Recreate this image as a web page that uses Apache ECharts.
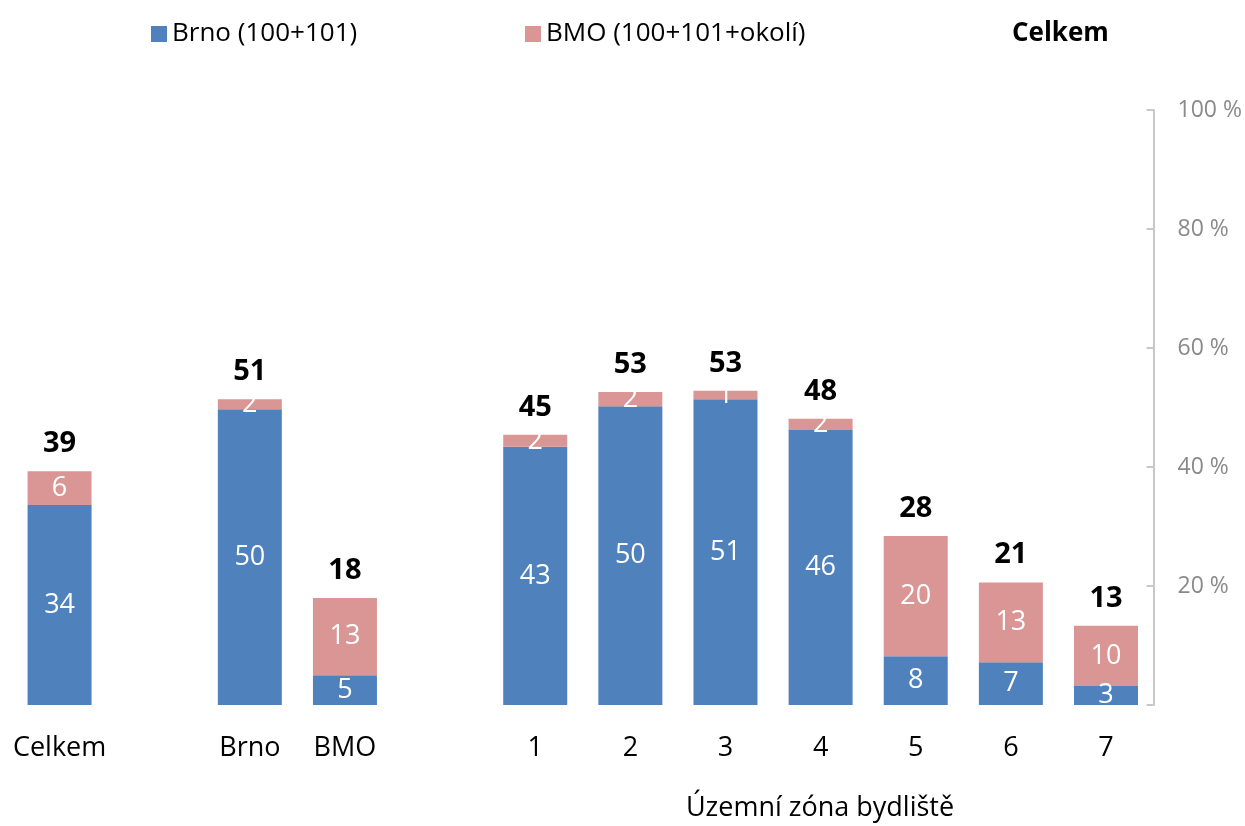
<!DOCTYPE html>
<html><head><meta charset="utf-8">
<script src="https://cdn.jsdelivr.net/npm/echarts@6/dist/echarts.min.js"></script>
<style>html,body{margin:0;padding:0;background:#fff}#c{width:1245px;height:826px}</style>
</head><body><div id="c"></div>
<script>
const categories = ['Celkem', '', 'Brno', 'BMO', '', '1', '2', '3', '4', '5', '6', '7'];
const brno = [33.6, null, 49.7, 5.0, null, 43.4, 50.2, 51.4, 46.2, 8.2, 7.2, 3.2];
const bmo = [5.7, null, 1.7, 13.0, null, 2.0, 2.4, 1.4, 1.9, 20.2, 13.4, 10.1];
const yTicks = [0, 20, 40, 60, 80, 100];
const seriesNames = ['Brno (100+101)', 'BMO (100+101+okolí)', 'Celkem'];
const axisTitle = 'Územní zóna bydliště';

const total = brno.map((v, i) => v == null ? null : +(v + bmo[i]).toFixed(1));
const FONT = '"Open Sans", "Noto Sans", sans-serif';
const chart = echarts.init(document.getElementById('c'), null, {renderer: 'canvas'});
const inLabel = {show: true, position: 'inside', color: '#fff', fontSize: 27, fontFamily: FONT,
  formatter: p => Math.round(p.value)};
const legTxt = {fontSize: 26, color: '#000', fontFamily: FONT};
chart.setOption({
  animation: false,
  textStyle: {fontFamily: FONT},
  legend: [
    {data: [{name: seriesNames[0], icon: 'rect'}], left: 146, top: 16, itemWidth: 16, itemHeight: 16, itemGap: 8,
     textStyle: legTxt},
    {data: [{name: seriesNames[1], icon: 'rect'}], left: 520, top: 16, itemWidth: 16, itemHeight: 16, itemGap: 8,
     textStyle: legTxt},
    {data: [{name: seriesNames[2], icon: 'rect'}], left: 986, top: 16, itemWidth: 16, itemHeight: 16, itemGap: 8,
     textStyle: Object.assign({}, legTxt, {fontWeight: 'bold'})}
  ],
  grid: {left: 12, right: 90, top: 110, bottom: 121, containLabel: false},
  xAxis: {
    type: 'category', data: categories,
    axisLine: {show: false}, axisTick: {show: false},
    axisLabel: {fontSize: 27, color: '#000', margin: 30, fontFamily: FONT, interval: 0}
  },
  yAxis: {
    type: 'value', position: 'right', min: 0, max: 100, interval: 20,
    axisLine: {show: true, lineStyle: {color: '#c8c8c8', width: 2}},
    axisTick: {show: true, inside: true, length: 7, lineStyle: {color: '#c8c8c8', width: 2}},
    splitLine: {show: false},
    axisLabel: {fontSize: 23, color: '#8a8a8a', margin: 24, fontFamily: FONT,
      formatter: v => v === 0 ? '' : v + ' %'}
  },
  series: [
    {name: seriesNames[0], type: 'bar', stack: 's', data: brno, barWidth: 64,
     itemStyle: {color: '#4F81BD'}, label: inLabel},
    {name: seriesNames[1], type: 'bar', stack: 's', data: bmo, barWidth: 64,
     itemStyle: {color: '#D99694'}, label: inLabel},
    {name: seriesNames[2], type: 'bar', data: total, barWidth: 64, barGap: '-100%',
     itemStyle: {color: 'rgba(0,0,0,0)'}, z: 5,
     label: {show: true, position: 'top', distance: 13, color: '#000', fontSize: 29, fontWeight: 'bold',
       fontFamily: FONT, formatter: p => Math.round(p.value)}}
  ],
  graphic: [{type: 'text', x: 820, y: 795,
    style: {text: axisTitle, fontSize: 27, fill: '#000', fontFamily: FONT, align: 'center'}}]
});
</script></body></html>
